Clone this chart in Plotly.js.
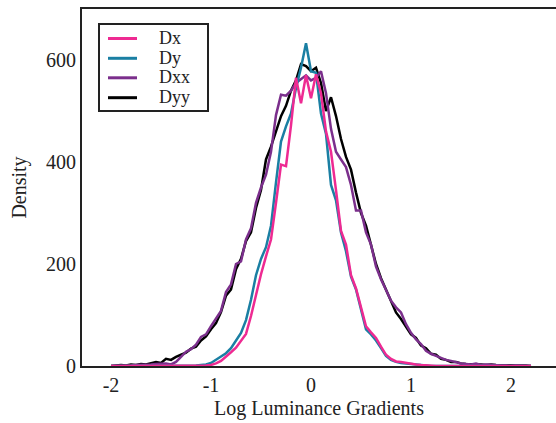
<!DOCTYPE html>
<html>
<head>
<meta charset="utf-8">
<script src="https://cdn.plot.ly/plotly-3.0.1.min.js"></script>
<style>html,body{margin:0;padding:0;background:#fff;}#chart{width:556px;height:423px;}</style>
</head>
<body>
<div id="chart"></div>
<script>
// Bin centres (log luminance gradient)
const binCenters = [-2.00,-1.95,-1.90,-1.85,-1.80,-1.75,-1.70,-1.65,-1.60,-1.55,-1.50,-1.45,-1.40,-1.35,-1.30,-1.25,-1.20,-1.15,-1.10,-1.05,
  -1.00,-0.95,-0.90,-0.85,-0.80,-0.75,-0.70,-0.65,-0.60,-0.55,-0.50,-0.45,-0.40,-0.35,-0.30,-0.25,-0.20,-0.15,-0.10,-0.05,
  0.00,0.05,0.10,0.15,0.20,0.25,0.30,0.35,0.40,0.45,0.50,0.55,0.60,0.65,0.70,0.75,0.80,0.85,0.90,0.95,
  1.00,1.05,1.10,1.15,1.20,1.25,1.30,1.35,1.40,1.45,1.50,1.55,1.60,1.65,1.70,1.75,1.80,1.85,1.90,1.95,
  2.00,2.05,2.10,2.15,2.20];

const dxDensity = [0,0,0,0,0,0,0,0,0,0,0,0,0,0,0,0,0,0,1,1,
  2,5,10,18,27,36,50,63,98,140,180,215,248,320,395,392,472,565,515,570,
  525,572,535,460,420,345,265,238,178,152,112,78,66,55,38,22,14,9,8,6,
  4,3,2,1,0,0,0,0,0,0,0,0,0,0,0,0,0,0,0,0,
  0,0,0,0,0];

const dyDensity = [0,0,0,0,0,0,0,0,0,0,0,0,0,0,0,0,0,1,2,3,
  6,12,18,25,35,50,65,90,130,178,210,233,275,360,440,470,495,545,585,633,
  578,575,495,455,355,325,262,225,175,150,108,72,62,50,35,20,12,8,6,5,
  3,2,1,1,0,0,0,0,0,0,0,0,0,0,0,0,0,0,0,0,
  0,0,0,0,0];

const dxxDensity = [0,0,1,1,1,2,2,3,3,4,4,5,3,8,18,28,33,42,57,62,
  78,92,108,145,160,200,205,248,270,320,350,375,420,492,532,530,540,555,562,570,
  560,565,578,535,465,420,405,390,355,305,305,262,238,195,170,150,128,115,105,82,
  65,52,43,30,24,20,16,12,10,7,5,4,3,5,2,3,2,1,1,1,
  0,1,0,0,0];

const dyyDensity = [0,1,2,1,3,2,4,3,5,8,6,14,12,18,22,26,34,38,50,58,
  72,84,106,138,150,190,210,245,262,310,345,405,430,462,490,510,540,560,592,588,
  578,585,555,500,527,490,445,410,385,340,300,275,238,200,172,150,128,105,92,78,
  62,55,40,35,24,22,14,12,8,8,5,4,4,3,3,2,3,2,2,1,
  2,1,1,1,0];

const seriesNames = ['Dx','Dy','Dxx','Dyy'];
const seriesColors = ['#ee2a92','#1a7fa3','#7b2f8c','#000000'];
const xTickVals = [-2,-1,0,1,2];
const xTickText = ['-2','-1','0','1','2'];
const yTickVals = [0,200,400,600];
const yTickText = ['0','200','400','600'];

const seriesData = [dxDensity, dyDensity, dxxDensity, dyyDensity];
const drawOrder = [3,2,1,0];
const traces = drawOrder.map(i => ({
  type: 'scatter', mode: 'lines', x: binCenters, y: seriesData[i], name: seriesNames[i],
  line: {color: seriesColors[i], width: 2.5}, showlegend: false, hoverinfo: 'skip'
}));

// plot-area geometry in pixels (for a hand-drawn matplotlib-style legend)
const W = 556, H = 423, L = 82, R = 0, T = 9, B = 57;
const pw = W - L - R, ph = H - T - B;
const px = x => (x - L) / pw;
const py = y => (H - B - y) / ph;

const font = 'Liberation Serif, Times New Roman, serif';
const shapes = [{type:'rect', xref:'paper', yref:'paper', x0:px(99), x1:px(208), y0:py(111), y1:py(24),
  line:{color:'#222', width:2}, fillcolor:'rgba(255,255,255,1)', layer:'above'}];
const annotations = [];
const rowY = [38.5, 58.3, 77.8, 97.7];
seriesNames.forEach((n, i) => {
  shapes.push({type:'line', xref:'paper', yref:'paper', x0:px(108), x1:px(137), y0:py(rowY[i]), y1:py(rowY[i]),
    line:{color:seriesColors[i], width:3}, layer:'above'});
  annotations.push({xref:'paper', yref:'paper', x:px(158), y:py(rowY[i] - 0.5), text:n, showarrow:false,
    xanchor:'left', yanchor:'middle', borderpad:0, font:{family:font, size:18, color:'#222'}});
});

const layout = {
  width: W, height: H,
  margin: {l: L, r: R, t: T, b: B, pad: 0},
  paper_bgcolor: '#fff', plot_bgcolor: '#fff',
  font: {family: font, size: 20, color: '#222'},
  showlegend: false,
  xaxis: {range: [-2.29, 2.45], tickvals: xTickVals, ticktext: xTickText, ticks: '', showgrid: false, zeroline: false,
    showline: true, linecolor: '#222', linewidth: 2, mirror: true,
    tickfont: {family: font, size: 20, color: '#222'},
    title: {text: 'Log Luminance Gradients', font: {family: font, size: 20, color: '#222'}, standoff: 6}},
  yaxis: {range: [0, 700], tickvals: yTickVals, ticktext: yTickText, ticks: '', showgrid: false, zeroline: false,
    showline: true, linecolor: '#222', linewidth: 2,
    tickfont: {family: font, size: 20, color: '#222'},
    title: {text: 'Density', font: {family: font, size: 20, color: '#222'}, standoff: 14}},
  shapes: shapes, annotations: annotations
};

Plotly.newPlot('chart', traces, layout, {displayModeBar: false, staticPlot: true});
</script>
</body>
</html>
